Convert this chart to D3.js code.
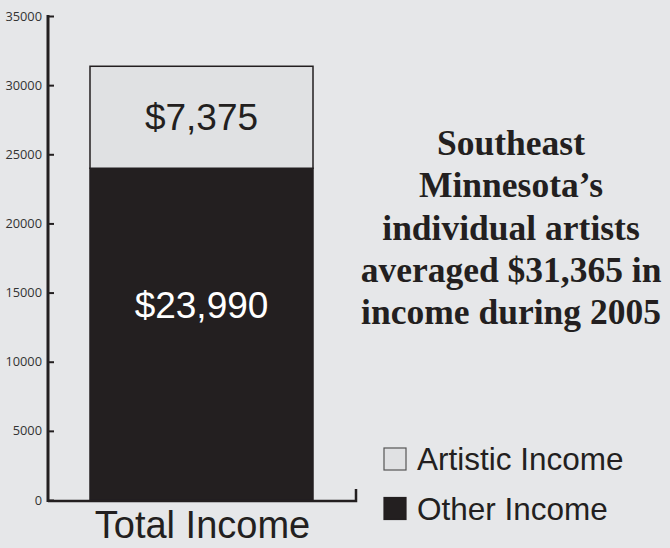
<!DOCTYPE html>
<html>
<head>
<meta charset="utf-8">
<script src="https://cdn.jsdelivr.net/npm/d3@7"></script>
<style>
  body { margin: 0; background: #e6e7e9; }
  svg { display: block; }
</style>
</head>
<body>
<svg id="chart" width="670" height="548"></svg>
<script>
// data
var categories = ["Total Income"];
var series = ["Other Income", "Artistic Income"];
var otherIncome = [23990];
var artisticIncome = [7375];
var yTicks = [0, 5000, 10000, 15000, 20000, 25000, 30000, 35000];
var titleLines = ["Southeast", "Minnesota\u2019s", "individual artists", "averaged $31,365 in", "income during 2005"];

var svg = d3.select("#chart");
var ink = "#231f20";
var colors = {"Other Income": ink, "Artistic Income": "#e0e1e3"};

var y = d3.scaleLinear().domain([0, 35000]).range([500, 16]);
var x = d3.scaleBand().domain(categories).range([90, 313]).padding(0);

// stacked rows
var rows = categories.map(function(c, i) {
    return {cat: c, "Other Income": otherIncome[i], "Artistic Income": artisticIncome[i]};
});
var stack = d3.stack().keys(series)(rows);

var layers = svg.append("g")
    .selectAll("g")
    .data(stack)
    .enter()
    .append("g")
    .attr("fill", function(d) { return colors[d.key]; });

layers.selectAll("rect")
    .data(function(d) { return d; })
    .enter()
    .append("rect")
    .attr("x", function(d) { return x(d.data.cat); })
    .attr("y", function(d) { return y(d[1]); })
    .attr("width", x.bandwidth())
    .attr("height", function(d) { return y(d[0]) - y(d[1]); })
    .attr("stroke", ink)
    .attr("stroke-width", 1.5);

// value labels (the big one sits a bit above its middle)
layers.selectAll("text")
    .data(function(d) { return d.map(function(v) { return {v: v, key: d.key}; }); })
    .enter()
    .append("text")
    .attr("x", function(d) { return x(d.v.data.cat) + x.bandwidth() / 2; })
    .attr("y", function(d) {
        if (d.key == "Other Income") return y(d.v[1]) + 150;
        return (y(d.v[0]) + y(d.v[1])) / 2 + 13;
    })
    .attr("text-anchor", "middle")
    .attr("font-family", "'Liberation Sans', Arial, sans-serif")
    .attr("font-size", 37)
    .attr("fill", function(d) { return d.key == "Other Income" ? "#ffffff" : ink; })
    .text(function(d) { return "$" + d3.format(",")(d.v[1] - d.v[0]); });

// y axis
var yAxis = d3.axisRight(y).tickValues(yTicks).tickSize(6).tickFormat(d3.format("d"));
var ax = svg.append("g")
    .attr("transform", "translate(48,0)")
    .call(yAxis);
ax.select(".domain").remove();
ax.selectAll(".tick line").attr("stroke", ink).attr("stroke-width", 2);
ax.selectAll(".tick text")
    .attr("x", -6)
    .attr("text-anchor", "end")
    .attr("fill", "#333")
    .attr("font-family", "'Open Sans', 'Noto Sans', sans-serif")
    .attr("font-size", 12.8);

svg.append("line")
    .attr("x1", 48).attr("x2", 48)
    .attr("y1", y(35000) - 1).attr("y2", y(0) + 2)
    .attr("stroke", ink).attr("stroke-width", 3);

// baseline with hook on the right
svg.append("path")
    .attr("d", "M48," + (y(0) + 1) + "H356V" + (y(0) - 11))
    .attr("fill", "none")
    .attr("stroke", ink)
    .attr("stroke-width", 2.5);

// x label
svg.append("text")
    .attr("x", x(categories[0]) + x.bandwidth() / 2 + 1)
    .attr("y", 538)
    .attr("text-anchor", "middle")
    .attr("font-family", "'Liberation Sans', Arial, sans-serif")
    .attr("font-size", 38)
    .attr("fill", ink)
    .text(categories[0]);

// title
svg.append("g")
    .selectAll("text")
    .data(titleLines)
    .enter()
    .append("text")
    .attr("x", 511)
    .attr("y", function(d, i) { return 155 + i * 42.3; })
    .attr("text-anchor", "middle")
    .attr("font-family", "'Liberation Serif', 'Times New Roman', serif")
    .attr("font-weight", "bold")
    .attr("font-size", 35.5)
    .attr("fill", ink)
    .text(function(d) { return d; });

// legend
var legendItems = ["Artistic Income", "Other Income"];
var lg = svg.append("g")
    .selectAll("g")
    .data(legendItems)
    .enter()
    .append("g")
    .attr("transform", function(d, i) { return "translate(384," + (448 + i * 49.5) + ")"; });

lg.append("rect")
    .attr("width", 22).attr("height", 22)
    .attr("fill", function(d) { return colors[d]; })
    .attr("stroke", function(d) { return d == "Artistic Income" ? "#555" : ink; })
    .attr("stroke-width", 1.2);

lg.append("text")
    .attr("x", 33)
    .attr("y", 22)
    .attr("font-family", "'Liberation Sans', Arial, sans-serif")
    .attr("font-size", 31.5)
    .attr("fill", ink)
    .text(function(d) { return d; });
</script>
</body>
</html>
